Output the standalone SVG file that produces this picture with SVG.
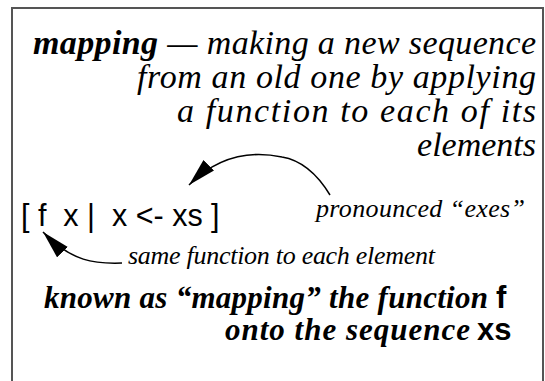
<svg xmlns="http://www.w3.org/2000/svg" width="545" height="381" viewBox="0 0 545 381">
<style>
.frame{fill:#fff;stroke:#555;stroke-width:2}
.ser{font-family:'Liberation Serif','Times New Roman',serif;font-style:italic;fill:#000}
.big{font-size:34px}
.small{font-size:26px}
.bold{font-weight:bold;font-size:31px}
.sans{font-family:'Liberation Sans',Arial,sans-serif;font-style:normal;fill:#000}
.conn{fill:none;stroke:#000;stroke-width:1.5}
</style>
<defs>
<marker id="ah" markerUnits="userSpaceOnUse" markerWidth="30" markerHeight="16" refX="28" refY="7.5" orient="auto">
<path d="M0,0 L28,7.5 L0,15 z" fill="#000"/>
</marker>
</defs>
<rect class="frame" x="12" y="8" width="531" height="390"/>
<g id="definition">
<text class="ser big" x="33" y="54" textLength="503" lengthAdjust="spacing"><tspan font-weight="bold">mapping</tspan> — making a new sequence</text>
<text class="ser big" x="137" y="88" textLength="399" lengthAdjust="spacing">from an old one by applying</text>
<text class="ser big" x="177" y="122" textLength="359" lengthAdjust="spacing">a function to each of its</text>
<text class="ser big" x="536" y="156" text-anchor="end">elements</text>
</g>
<g id="code">
<text class="sans" x="21" y="226" font-size="30.5" xml:space="preserve">[ f  x |  x &lt;- xs ]</text>
</g>
<g id="label-exes">
<text class="ser small" x="316" y="217" textLength="209" lengthAdjust="spacing">pronounced “exes”</text>
</g>
<g id="label-same">
<text class="ser small" x="128" y="264" textLength="307" lengthAdjust="spacing">same function to each element</text>
</g>
<g id="summary">
<text class="ser bold" x="44" y="308" textLength="444" lengthAdjust="spacing">known as “mapping” the function</text>
<text class="sans bold" x="496" y="308">f</text>
<text class="ser bold" x="225" y="340" textLength="245" lengthAdjust="spacing">onto the sequence</text>
<text class="sans bold" x="477" y="340">xs</text>
</g>
<g id="connectors">
<path class="conn" d="M330,195 C316,172 300,160 282,157 C258,152 222,152 189,185" marker-end="url(#ah)"/>
<path class="conn" d="M122,263 C95,264 72,262 43,232" marker-end="url(#ah)"/>
</g>
</svg>
